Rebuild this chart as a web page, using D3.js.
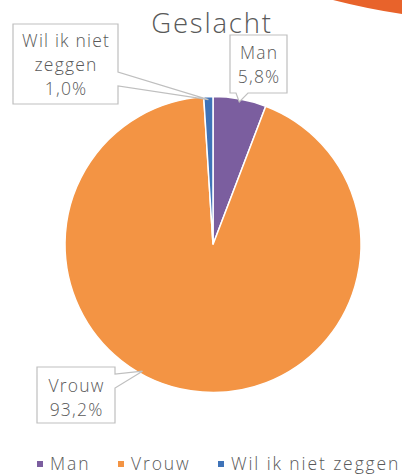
<!DOCTYPE html>
<html>
<head>
<meta charset="utf-8">
<script src="https://cdn.jsdelivr.net/npm/d3@7"></script>
<style>
  html, body { margin: 0; padding: 0; background: #fff; }
  svg { display: block; }
  text { font-family: "Open Sans", "Lato", sans-serif; fill: #595959; font-weight: 300; }
</style>
</head>
<body>
<svg id="chart" width="402" height="476"></svg>
<script>
// ---- data ----
const categories = ["Man", "Vrouw", "Wil ik niet zeggen"];
const values = [5.8, 93.2, 1.0];
const valueLabels = ["5,8%", "93,2%", "1,0%"];
const colors = ["#7B5E9F", "#F39444", "#3F73B8"];
const title = "Geslacht";

const svg = d3.select("#chart");
const cx = 213, cy = 244.5, R = 148;

// decorative swoosh top-right
svg.append("path")
  .attr("d", "M333,0 Q368,9 402,14 L402,0 Z")
  .attr("fill", "#E8632B");

// title
svg.append("text")
  .attr("x", 212).attr("y", 33)
  .attr("text-anchor", "middle")
  .style("font-size", "27.5px")
  .style("letter-spacing", "1.8px")
  .text(title);

const pie = d3.pie().sort(null).value(d => d)(values);
const arc = d3.arc().innerRadius(0).outerRadius(R);

const g = svg.append("g").attr("transform", `translate(${cx},${cy})`);
g.selectAll("path.slice")
  .data(pie)
  .join("path")
  .attr("class", "slice")
  .attr("d", arc)
  .attr("fill", (d, i) => colors[i])
  .attr("stroke", "#fff")
  .attr("stroke-width", 1.5);

function rim(d, t, r) {
  const a = d.startAngle + (d.endAngle - d.startAngle) * t;
  return [cx + r * Math.sin(a), cy - r * Math.cos(a)];
}

const callouts = [
  { i: 0, box: [230, 35, 287, 93], side: "bottom", base: [236, 248], lines: ["Man"], ty: 59 },
  { i: 1, box: [37, 367, 115, 423], side: "right", base: [374, 388], lines: ["Vrouw"], ty: 392 },
  { i: 2, box: [13, 24, 118, 104], side: "right", base: [72, 86], lines: ["Wil ik niet", "zeggen"], ty: 47 }
];
const tipFrac = [0.5, 0.561, 0.5];

callouts.forEach(c => {
  const d = pie[c.i];
  const [tx, ty] = rim(d, tipFrac[c.i], R - 3);
  const [x0, y0, x1, y1] = c.box;
  let p;
  if (c.side === "bottom") {
    p = `M${x0},${y0} H${x1} V${y1} H${c.base[1]} L${tx},${ty} L${c.base[0]},${y1} H${x0} Z`;
  } else {
    p = `M${x0},${y0} H${x1} V${c.base[0]} L${tx},${ty} L${x1},${c.base[1]} V${y1} H${x0} Z`;
  }
  svg.append("path")
    .attr("d", p)
    .attr("fill", "#fff")
    .attr("stroke", "#BFBFBF")
    .attr("stroke-width", 1.2);
  const lines = c.lines.concat([valueLabels[c.i]]);
  const t = svg.append("text")
    .attr("text-anchor", "middle")
    .style("font-size", "17.5px")
    .style("letter-spacing", "1.2px");
  lines.forEach((ln, k) => {
    t.append("tspan")
      .attr("x", (x0 + x1) / 2 + 0.6)
      .attr("y", c.ty + k * 24)
      .text(ln);
  });
});

// legend
const legendX = [37, 118, 218];
const lg = svg.append("g");
categories.forEach((c, i) => {
  lg.append("rect")
    .attr("x", legendX[i]).attr("y", 461)
    .attr("width", 6).attr("height", 6)
    .attr("fill", colors[i]);
  lg.append("text")
    .attr("x", legendX[i] + 13).attr("y", 470)
    .style("font-size", "17.5px")
    .style("letter-spacing", "1.9px")
    .text(c);
});
</script>
</body>
</html>
